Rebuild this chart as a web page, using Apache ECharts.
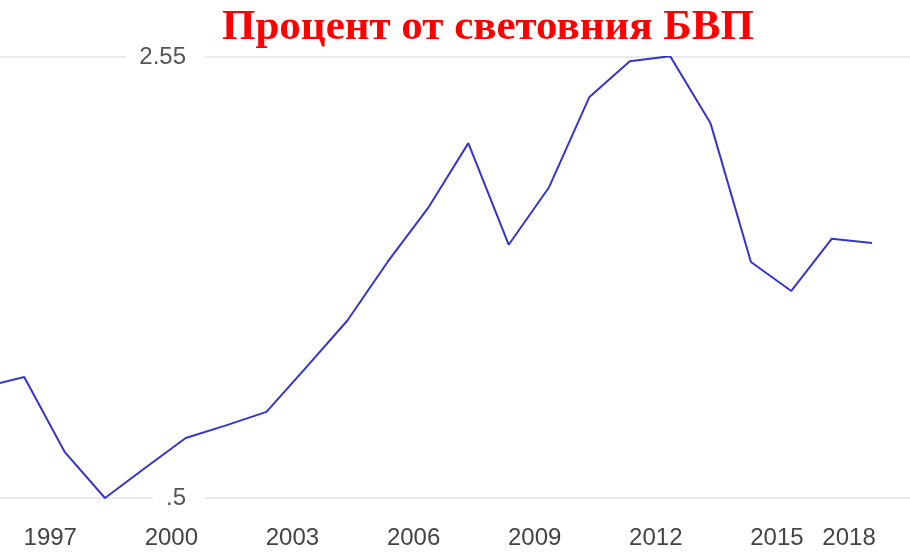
<!DOCTYPE html>
<html>
<head>
<meta charset="utf-8">
<script src="https://cdn.jsdelivr.net/npm/echarts@6/dist/echarts.min.js"></script>
<style>
html,body{margin:0;padding:0;background:#fff;}
#chart{width:910px;height:555px;}
</style>
</head>
<body>
<div id="chart"></div>
<script>
var titleText = 'Процент от световния БВП';
var years = [1996,1997,1998,1999,2000,2001,2002,2003,2004,2005,2006,2007,2008,2009,2010,2011,2012,2013,2014,2015,2016,2017,2018];
var values = [1.764,1.788,1.610,1.500,1.572,1.643,1.673,1.705,1.813,1.922,2.062,2.190,2.345,2.103,2.240,2.455,2.540,2.552,2.392,2.062,1.993,2.117,2.107];
var xTickValues = [1997,2000,2003,2006,2009,2012,2015,2018];
var yTickValues = [1.5, 2.55];
var yTickLabels = ['.5', '2.55'];

var chart = echarts.init(document.getElementById('chart'));
var lastX = xTickValues[xTickValues.length - 1];
chart.setOption({
  backgroundColor: '#fff',
  animation: false,
  title: {
    text: titleText,
    left: 217,
    top: 1,
    textStyle: {fontFamily: 'Liberation Serif', fontWeight: 'bold', fontSize: 43, color: '#ff0000'}
  },
  grid: {left: 0, right: 0, top: 57, bottom: 57, containLabel: false},
  xAxis: {
    type: 'value',
    min: 1996.4,
    max: 2018.94,
    axisLine: {show: false},
    axisTick: {show: false},
    splitLine: {show: false},
    axisLabel: {
      customValues: xTickValues,
      margin: 28,
      hideOverlap: false,
      formatter: function (v) { return v === lastX ? '{e|' + v + '}' : '{n|' + v + '}'; },
      rich: {
        n: {fontFamily: 'Liberation Sans', fontSize: 24, color: '#444', padding: [0, 0, 0, 52]},
        e: {fontFamily: 'Liberation Sans', fontSize: 24, color: '#444', padding: [0, 46, 0, 0]}
      }
    }
  },
  yAxis: {
    type: 'value',
    min: 1.5,
    max: 2.55,
    axisLine: {show: false},
    axisTick: {show: false, customValues: yTickValues},
    splitLine: {show: true, lineStyle: {color: '#ebebeb', width: 2}},
    axisLabel: {
      customValues: yTickValues,
      inside: true,
      align: 'right',
      margin: 205,
      fontFamily: 'Liberation Sans',
      fontSize: 24,
      color: '#555',
      backgroundColor: '#fff',
      padding: [10, 19, 0, 13],
      formatter: function (v) {
        var i = yTickValues.indexOf(v);
        return i >= 0 ? yTickLabels[i] : '';
      }
    }
  },
  series: [{
    type: 'line',
    data: years.map(function (y, i) { return [y, values[i]]; }),
    showSymbol: false,
    clip: true,
    lineStyle: {color: '#3535cc', width: 2},
    z: 1
  }]
});
</script>
</body>
</html>
